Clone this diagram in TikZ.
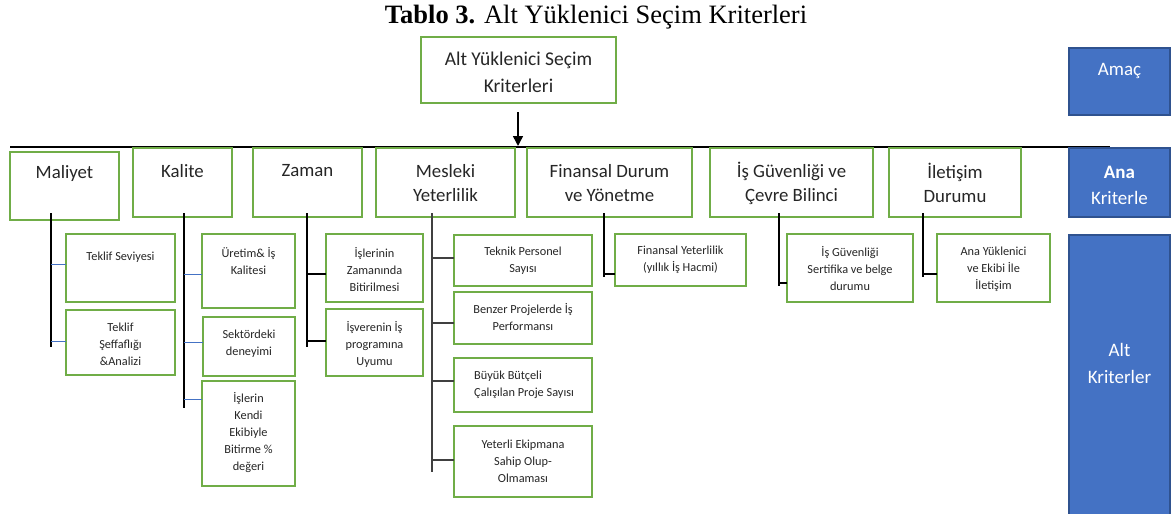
\documentclass[tikz,border=0pt]{standalone}
\usepackage{fontspec}
\setmainfont{Carlito}
\newfontfamily\timesf{Liberation Serif}
\usetikzlibrary{arrows.meta}
\definecolor{grn}{HTML}{70AD47}
\definecolor{blu}{HTML}{4472C4}
\definecolor{bluedge}{HTML}{2F528F}
\definecolor{dgray}{HTML}{404040}
\definecolor{txt}{HTML}{262626}
\newcommand\mybox[6][gbox]{\node[#1, minimum width={#5pt-#3pt}, minimum height={#6pt-#4pt}] (#2) at (#3,#4) {};}
\begin{document}
\begin{tikzpicture}[x=1pt,y=-1pt,
  gbox/.style={draw=grn, line width=2.6pt, inner sep=0, outer sep=0, anchor=north west},
  bbox/.style={draw=bluedge, fill=blu, line width=1.8pt, inner sep=0, outer sep=0, anchor=north west},
  mtext/.style={font=\fontsize{18.8}{24}\selectfont, align=center, inner sep=0, text=txt},
  ttext/.style={font=\fontsize{19.5}{27}\selectfont, align=center, inner sep=0, text=txt},
  stext/.style={font=\fontsize{12.3}{17}\selectfont, align=center, inner sep=0, text=txt},
  wtext/.style={font=\fontsize{19}{26}\selectfont, align=center, inner sep=0, text=white},
  trunk/.style={line width=1.2pt, black},
  gtrunk/.style={line width=1.3pt, dgray},
  bconn/.style={line width=1pt, blu},
  kconn/.style={line width=1.1pt, black},
  gconn/.style={line width=1.3pt, dgray},
]
\useasboundingbox (0,0) rectangle (1173,514);
\clip (0,0) rectangle (1173,514);
\fill[white] (0,0) rectangle (1173,514);

% title
\node[font=\timesf\fontsize{26.5}{28}\selectfont, inner sep=0] (title) at (596,17) {\textbf{Tablo 3.} Alt Yüklenici Seçim Kriterleri};

% top box
\mybox{top}{421}{37}{616}{103}
\node[ttext] (toptx) at (518.5,72.5) {Alt Yüklenici Seçim\\Kriterleri};

% arrow and main line
\coordinate (a1) at (518,112);
\coordinate (a2) at (518,146);
\coordinate (L) at (10,147);
\coordinate (R) at (1110,147);
\draw[line width=1.8pt] (L) -- (R);
\draw[line width=1.5pt, -{Triangle[length=10pt,width=10pt]}] (a1) -- (a2);

% blue side boxes
\mybox[bbox]{amac}{1069}{48}{1170}{115}
\node[wtext] (amactx) at (1119.5,71) {Amaç};
\mybox[bbox]{ana}{1069}{148}{1170}{217}
\node[wtext] (anatx) at (1119.5,185) {\textbf{Ana}\\Kriterle};
\mybox[bbox]{alt}{1069}{235}{1170}{530}
\node[wtext, font=\fontsize{19}{27}\selectfont] (alttx) at (1119.5,363.5) {Alt\\Kriterler};

% main criteria
\mybox{mal}{10}{152}{119}{220}
\node[mtext] (maltx) at (64.5,173) {Maliyet};
\mybox{kal}{133}{148}{232}{217}
\node[mtext] (kaltx) at (182.5,171) {Kalite};
\mybox{zam}{253}{148}{362}{217}
\node[mtext] (zamtx) at (307.5,171) {Zaman};
\mybox{mes}{376}{148}{515}{217}
\node[mtext] (mestx) at (445.5,183) {Mesleki\\Yeterlilik};
\mybox{fin}{527}{148}{692}{217}
\node[mtext] (fintx) at (609.5,183) {Finansal Durum\\ve Yönetme};
\mybox{isg}{710}{148}{873}{217}
\node[mtext] (isgtx) at (791.5,183) {İş Güvenliği ve\\Çevre Bilinci};
\mybox{ile}{889}{148}{1021}{217}
\node[mtext] (iletx) at (955,183) {İletişim\\Durumu};

% sub criteria: Maliyet
\mybox{tsev}{66}{234}{175}{302}
\node[stext] (tsevtx) at (120.5,257) {Teklif Seviyesi};
\mybox{tsef}{66}{310}{175}{375}
\node[stext] (tseftx) at (120.5,344.5) {Teklif\\Şeffaflığı\\\&Analizi};
% Kalite
\mybox{ure}{202}{234}{295}{308}
\node[stext] (uretx) at (248.5,261) {Üretim\& İş\\Kalitesi};
\mybox{sek}{203}{317}{295}{376}
\node[stext] (sektx) at (249,343.5) {Sektördeki\\deneyimi};
\mybox{ken}{202}{381}{295}{486}
\node[stext] (kentx) at (248.5,433) {İşlerin\\Kendi\\Ekibiyle\\Bitirme \%\\değeri};
% Zaman
\mybox{zbi}{326}{234}{423}{302}
\node[stext] (zbitx) at (374.5,269.5) {İşlerinin\\Zamanında\\Bitirilmesi};
\mybox{zpr}{326}{309}{423}{376}
\node[stext] (zprtx) at (374.5,344.5) {İşverenin İş\\programına\\Uyumu};
% Mesleki
\mybox{tek}{454}{235}{592}{286}
\node[stext] (tektx) at (523,260.5) {Teknik Personel\\Sayısı};
\mybox{ben}{454}{292}{592}{344}
\node[stext] (bentx) at (523,317.5) {Benzer Projelerde İş\\Performansı};
\mybox{buy}{454}{358}{592}{412}
\node[stext, anchor=west, align=left] (buytx) at (474,384.5) {Büyük Bütçeli\\Çalışılan Proje Sayısı};
\mybox{eki}{454}{426}{592}{497}
\node[stext] (ekitx) at (523,461) {Yeterli Ekipmana\\Sahip Olup-\\Olmaması};
% Finansal
\mybox{fye}{615}{234}{746}{286}
\node[stext] (fyetx) at (680.5,260) {Finansal Yeterlilik\\(yıllık İş Hacmi)};
% Is Guvenligi
\mybox{ser}{787}{234}{913}{302}
\node[stext] (sertx) at (850,269) {İş Güvenliği\\Sertifika ve belge\\durumu};
% Iletisim
\mybox{ayk}{937}{234}{1050}{302}
\node[stext] (ayktx) at (993.5,269) {Ana Yüklenici\\ve Ekibi İle\\İletişim};

% trunks
\coordinate (m1) at (51,213);  \coordinate (m2) at (51,347);
\coordinate (k1) at (184,213); \coordinate (k2) at (184,408);
\coordinate (z1) at (307,213); \coordinate (z2) at (307,347);
\coordinate (y1) at (432,213); \coordinate (y2) at (432,472);
\coordinate (f1) at (604,213); \coordinate (f2) at (604,277);
\coordinate (g1) at (779,213); \coordinate (g2) at (779,286);
\coordinate (i1) at (923,213); \coordinate (i2) at (923,277);
\draw[trunk] (m1) -- (m2);
\draw[trunk] (k1) -- (k2);
\draw[trunk] (z1) -- (z2);
\draw[gtrunk] (y1) -- (y2);
\draw[trunk] (f1) -- (f2);
\draw[trunk] (g1) -- (g2);
\draw[trunk] (i1) -- (i2);

% branch connectors
\draw[bconn] (m1 |- 0,264) -- (tsev.west |- 0,264);
\draw[bconn] (m1 |- 0,341) -- (tsef.west |- 0,341);
\draw[bconn] (k1 |- 0,274) -- (ure.west |- 0,274);
\draw[bconn] (k1 |- 0,342) -- (sek.west |- 0,342);
\draw[bconn] (k1 |- 0,399) -- (ken.west |- 0,399);
\draw[kconn] (z1 |- 0,274) -- (zbi.west |- 0,274);
\draw[kconn] (z1 |- 0,341) -- (zpr.west |- 0,341);
\draw[gconn] (y1 |- 0,258) -- (tek.west |- 0,258);
\draw[gconn] (y1 |- 0,323) -- (ben.west |- 0,323);
\draw[gconn] (y1 |- 0,381) -- (buy.west |- 0,381);
\draw[gconn] (y1 |- 0,460) -- (eki.west |- 0,460);
\draw[kconn] (f1 |- 0,274) -- (fye.west |- 0,274);
\draw[kconn] (g1 |- 0,283) -- (ser.west |- 0,283);
\draw[kconn] (i1 |- 0,274) -- (ayk.west |- 0,274);
\end{tikzpicture}
\end{document}
